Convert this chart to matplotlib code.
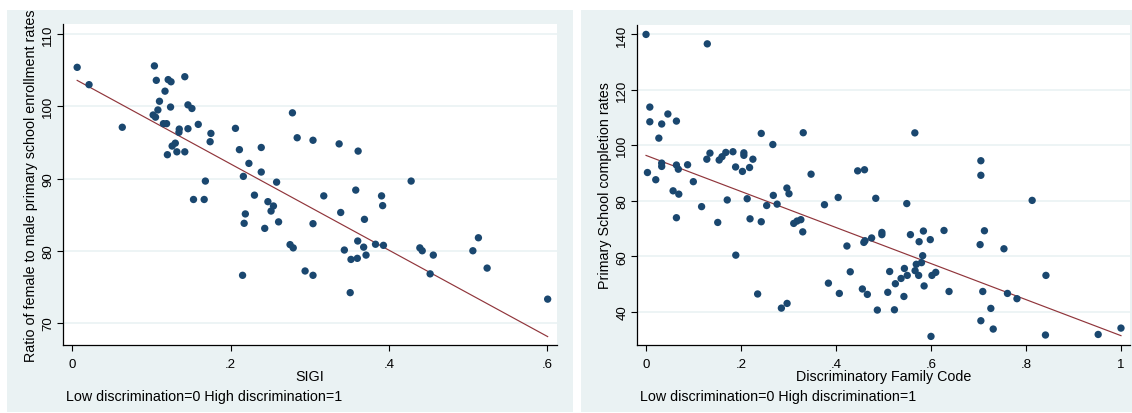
import numpy as np
import matplotlib
matplotlib.use("Agg")
import matplotlib.pyplot as plt
from matplotlib.patches import Rectangle

# --- data ---
sigi = [0.006, 0.021, 0.063, 0.1036, 0.106, 0.121, 0.1246, 0.117, 0.110, 0.108,
        0.124, 0.102, 0.105, 0.115, 0.119, 0.135, 0.1346, 0.142, 0.146, 0.151,
        0.146, 0.159, 0.175, 0.174, 0.130, 0.126, 0.120, 0.132, 0.142, 0.153,
        0.1665, 0.168, 0.206, 0.211, 0.223, 0.2386, 0.216, 0.2386, 0.258, 0.230,
        0.247, 0.254, 0.251, 0.2185, 0.217, 0.243, 0.2605, 0.215, 0.278, 0.284,
        0.304, 0.3176, 0.304, 0.275, 0.279, 0.294, 0.304, 0.337, 0.361, 0.339,
        0.358, 0.369, 0.3605, 0.368, 0.3436, 0.352, 0.360, 0.371, 0.351, 0.383,
        0.393, 0.3906, 0.392, 0.428, 0.439, 0.442, 0.456, 0.452, 0.506, 0.513,
        0.524, 0.6005]
enroll_ratio = [105.4, 103.0, 97.1, 105.6, 103.6, 103.7, 103.4, 102.1, 100.7, 99.5,
                99.9, 98.8, 98.5, 97.6, 97.6, 96.85, 96.4, 104.1, 100.2, 99.7,
                96.9, 97.5, 96.25, 95.1, 94.9, 94.5, 93.3, 93.7, 93.7, 87.1,
                87.1, 89.65, 96.95, 94.0, 92.1, 94.3, 90.3, 90.9, 89.5, 87.7,
                86.8, 86.2, 85.5, 85.1, 83.8, 83.1, 84.0, 76.6, 99.1, 95.65,
                95.3, 87.6, 83.75, 80.85, 80.4, 77.2, 76.6, 94.8, 93.8, 85.3,
                88.4, 84.35, 81.35, 80.5, 80.1, 78.8, 78.95, 79.4, 74.2, 80.9,
                80.75, 87.6, 86.25, 89.65, 80.4, 80.0, 79.4, 76.8, 80.0, 81.8,
                77.6, 73.3]
# fitted line as drawn in the chart (intercept, slope)
fit_left = (103.95, -59.68)

family_code = [0.0, 0.129, 0.008, 0.008, 0.046, 0.033, 0.064, 0.027, 0.033, 0.033,
               0.003, 0.0205, 0.064, 0.068, 0.0875, 0.0996, 0.057, 0.069, 0.064, 0.117,
               0.128, 0.1346, 0.154, 0.160, 0.168, 0.183, 0.1886, 0.171, 0.151, 0.189,
               0.203, 0.206, 0.206, 0.218, 0.225, 0.213, 0.219, 0.2426, 0.267, 0.2426,
               0.235, 0.254, 0.268, 0.276, 0.2966, 0.301, 0.285, 0.297, 0.311, 0.318,
               0.326, 0.331, 0.330, 0.3475, 0.3757, 0.4046, 0.384, 0.407, 0.423, 0.430,
               0.4456, 0.460, 0.4586, 0.461, 0.475, 0.4837, 0.4966, 0.4966, 0.4555, 0.466,
               0.487, 0.509, 0.513, 0.525, 0.523, 0.537, 0.544, 0.550, 0.543, 0.549,
               0.566, 0.5567, 0.575, 0.584, 0.5985, 0.5825, 0.580, 0.569, 0.5665, 0.574,
               0.5855, 0.602, 0.610, 0.600, 0.6274, 0.638, 0.705, 0.705, 0.7125, 0.7034,
               0.709, 0.705, 0.726, 0.731, 0.7536, 0.761, 0.781, 0.813, 0.842, 0.841,
               0.952, 1.0]
completion = [140.0, 136.6, 113.8, 108.5, 111.3, 107.7, 108.75, 102.6, 93.6, 92.4,
              90.2, 87.6, 92.9, 91.4, 93.0, 86.9, 83.6, 82.4, 73.9, 77.9,
              95.0, 97.2, 94.7, 95.9, 97.45, 97.7, 92.2, 80.3, 72.2, 60.4,
              90.6, 97.3, 96.4, 92.0, 95.0, 80.75, 73.5, 104.3, 100.3, 72.45,
              46.4, 78.3, 81.95, 78.8, 84.6, 82.55, 41.3, 43.0, 71.85, 72.7,
              73.2, 104.55, 68.8, 89.6, 78.6, 81.2, 50.3, 46.6, 63.7, 54.4,
              90.8, 91.2, 65.0, 65.6, 66.6, 80.9, 68.6, 67.8, 48.2, 46.25,
              40.6, 47.0, 54.5, 50.1, 40.7, 52.0, 55.6, 53.1, 45.5, 79.0,
              104.5, 67.8, 65.25, 69.1, 66.0, 60.2, 57.7, 57.1, 54.8, 53.1,
              49.3, 53.1, 54.2, 31.1, 69.3, 47.3, 94.45, 89.2, 69.2, 64.2,
              47.3, 36.75, 41.2, 33.75, 62.7, 46.6, 44.7, 80.15, 53.1, 31.6,
              31.8, 34.1]
fit_right = (96.37, -65.0)

left_xticks = [0, 0.2, 0.4, 0.6]
left_xticklabels = ["0", ".2", ".4", ".6"]
left_yticks = [70, 80, 90, 100, 110]
right_xticks = [0, 0.2, 0.4, 0.6, 0.8, 1.0]
right_xticklabels = ["0", ".2", ".4", ".6", ".8", "1"]
right_yticks = [40, 60, 80, 100, 120, 140]
note = "Low discrimination=0 High discrimination=1"

# --- Stata s2color look ---
BG = "#EAF2F3"
NAVY = "#1A476F"
MAROON = "#90353B"
plt.rcParams["font.family"] = ["Liberation Sans", "DejaVu Sans"]
FS_TICK = 9.5
FS_TITLE = 10.3

W, H = 1132, 414
fig = plt.figure(figsize=(W / 100, H / 100), dpi=100)
fig.patch.set_facecolor("white")
# panel backgrounds (pixel boxes converted to figure fractions)
for x0, x1 in [(7, 572.5), (581, 1132)]:
    fig.patches.append(Rectangle((x0 / W, 1 - 413 / H), (x1 - x0) / W, (413 - 11) / H,
                                 transform=fig.transFigure, facecolor=BG,
                                 edgecolor="none", zorder=-5))


def make_panel(box, x, y, fit, xlim, ylim, xticks, xlabels, yticks, xlabel, ylabel,
               ylabel_x, note_x):
    x0, y0, x1, y1 = box
    ax = fig.add_axes([x0 / W, 1 - y1 / H, (x1 - x0) / W, (y1 - y0) / H])
    ax.set_facecolor("white")
    x = np.asarray(x)
    y = np.asarray(y)
    ax.scatter(x, y, s=28, color=NAVY, edgecolors="none", zorder=3)
    icept, slope = fit
    xs = np.array([x.min(), x.max()])
    ax.plot(xs, icept + slope * xs, color=MAROON, lw=0.85, zorder=2)
    ax.set_xlim(*xlim)
    ax.set_ylim(*ylim)
    ax.set_xticks(xticks)
    ax.set_xticklabels(xlabels)
    ax.set_yticks(yticks)
    ax.set_yticklabels([str(t) for t in yticks], rotation=90, va="center")
    ax.yaxis.grid(True, color=BG, lw=1.2)
    ax.set_axisbelow(True)
    for s in ["top", "right"]:
        ax.spines[s].set_visible(False)
    for s in ["left", "bottom"]:
        ax.spines[s].set_linewidth(0.9)
    ax.tick_params(direction="out", length=4.2, width=0.8, labelsize=FS_TICK)
    ax.tick_params(axis="x", pad=5)
    ax.tick_params(axis="y", pad=2)
    ax.set_xlabel(xlabel, fontsize=FS_TITLE, va="center")
    ax.xaxis.set_label_coords(0.5, (y1 - 377) / (y1 - y0))
    ax.set_ylabel(ylabel, fontsize=FS_TITLE, va="center")
    ax.yaxis.set_label_coords((ylabel_x - x0) / (x1 - x0), 0.5)
    fig.text(note_x / W, 1 - 397 / H, note, fontsize=FS_TITLE, ha="left", va="center")
    return ax


make_panel((63, 25, 557, 346), sigi, enroll_ratio, fit_left,
           (-0.0119, 0.6123), (66.95, 111.4),
           left_xticks, left_xticklabels, left_yticks, "SIGI",
           "Ratio of female to male primary school enrollment rates", 30.7, 66)
make_panel((637, 26, 1130, 346), family_code, completion, fit_right,
           (-0.019, 1.019), (28.0, 143.4),
           right_xticks, right_xticklabels, right_yticks, "Discriminatory Family Code",
           "Primary School completion rates", 604.6, 640)

fig.savefig("out.png", dpi=100, facecolor=fig.get_facecolor())
